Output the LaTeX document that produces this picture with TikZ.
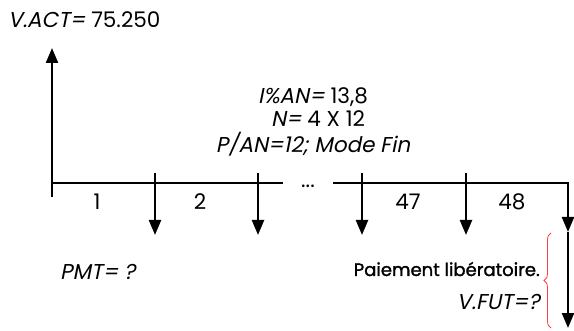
\documentclass[tikz,border=0pt]{standalone}
\usepackage{fontspec}
\setmainfont{Poppins}[AutoFakeSlant=0.2,AutoFakeBold=1.5]
\usepackage{tikz}
\usetikzlibrary{arrows.meta,positioning,decorations.pathreplacing}

\begin{document}
\begin{tikzpicture}[
    x=1pt, y=1pt,
    txt/.style={font=\fontsize{21.5}{24}\selectfont, inner sep=0pt},
    num/.style={txt, anchor=base},
    axis/.style={line width=1.6pt},
    flow/.style={-{Triangle[length=15pt, width=12pt]}, line width=2.4pt},
    brc/.style={draw=red!75, line width=0.8pt, decorate, decoration={brace, amplitude=7pt}}
]
\useasboundingbox (0,0) rectangle (574,330);
% timeline
\coordinate (t0) at (52,147);
\coordinate (gapL) at (283,147);
\coordinate (gapR) at (333,147);
\coordinate (tEnd) at (568,147);
\coordinate (t0low) at (52,133);
\coordinate (vtop) at (52,282);
\coordinate (fmid) at (568,98);
\coordinate (fend) at (568,2);
\draw[axis] (t0) -- (gapL);
\draw[axis] (gapR) -- (tEnd);
\draw[axis] (t0low) -- (t0);
\draw[flow] (t0) -- (vtop);
\draw[flow, shorten <=-0.8pt] (tEnd) -- (fmid);
\draw[flow] (fmid) -- (fend);
% payments
\foreach \px/\nm in {155/p1, 258/p2, 362/p47, 466/p48} {
    \coordinate (\nm top) at (\px,157);
    \coordinate (\nm tip) at (\px,95);
    \draw[flow] (\nm top) -- (\nm tip);
}
% period numbers
\node[num] (n1) at (97,120) {1};
\node[num] (n2) at (200,120) {2};
\node[num] (n47) at (408,120) {47};
\node[num] (n48) at (512,120) {48};
\node[num] (dots) at (308,142) {...};
% labels
\node[txt, anchor=base west] (vact) at (8,302) {\itshape V.ACT=\upshape{} 75.250};
\node[txt, align=center, anchor=base] (rate) at (313,177)
    {\itshape I\%AN=\upshape{} 13,8\\
     \hspace*{10pt}\itshape N=\upshape{} 4 X 12\\[2pt]
     \itshape P/AN=12; Mode Fin};
\node[txt, anchor=base west] (pmt) at (60,50) {\itshape PMT= ?};
\node[txt, anchor=base east, font=\fontsize{18}{20}\selectfont\bfseries] (balloon) at (540,54) {Paiement libératoire.};
\node[txt, anchor=base east] (vfut) at (540,21) {\itshape V.FUT=?};
\draw[brc] (551,2) -- (551,97);
\end{tikzpicture}
\end{document}
